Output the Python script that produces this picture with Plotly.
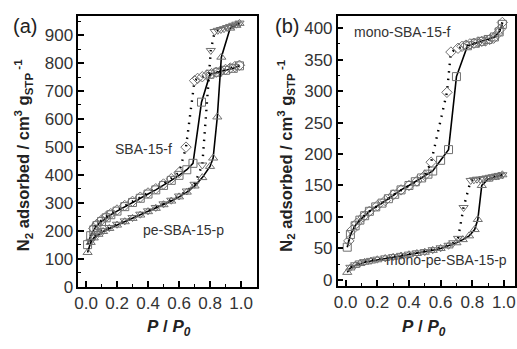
import plotly.graph_objects as go

# ---------------- data ----------------
# panel (a)
a_f_ads_p = [0.01, 0.03, 0.05, 0.07, 0.10, 0.13, 0.16, 0.20, 0.25, 0.30, 0.35, 0.40, 0.45, 0.50, 0.55, 0.60, 0.65, 0.69, 0.745, 0.80, 0.85, 0.90, 0.95, 0.99]
a_f_ads_v = [150, 182, 203, 218, 233, 246, 257, 270, 286, 301, 316, 331, 346, 362, 380, 398, 418, 441, 660, 760, 767, 774, 781, 790]
a_f_des_p = [0.99, 0.96, 0.93, 0.90, 0.87, 0.84, 0.81, 0.78, 0.75, 0.72, 0.70, 0.645, 0.60, 0.55, 0.50, 0.45, 0.40, 0.35, 0.30, 0.25, 0.20, 0.16, 0.13, 0.10, 0.07, 0.05]
a_f_des_v = [792, 787, 782, 777, 772, 767, 762, 757, 751, 745, 737, 499, 408, 386, 367, 350, 335, 320, 305, 290, 274, 261, 250, 238, 223, 208]

a_p_ads_p = [0.01, 0.03, 0.05, 0.08, 0.11, 0.15, 0.20, 0.25, 0.30, 0.35, 0.40, 0.45, 0.50, 0.55, 0.60, 0.65, 0.70, 0.75, 0.80, 0.82, 0.847, 0.873, 0.93, 0.97, 0.99]
a_p_ads_v = [122, 158, 174, 187, 197, 208, 220, 232, 244, 256, 268, 280, 293, 306, 321, 338, 360, 390, 430, 460, 607, 821, 925, 935, 942]
a_p_des_p = [0.99, 0.97, 0.95, 0.93, 0.91, 0.89, 0.87, 0.85, 0.83, 0.805, 0.75, 0.70, 0.65, 0.60, 0.55, 0.50, 0.45, 0.40, 0.35, 0.30, 0.25, 0.20, 0.15, 0.11, 0.08, 0.05, 0.03]
a_p_des_v = [943, 939, 935, 931, 927, 923, 920, 917, 913, 845, 435, 366, 342, 324, 309, 296, 283, 271, 259, 247, 235, 223, 211, 200, 190, 178, 162]

# panel (b)
b_f_ads_p = [0.01, 0.03, 0.06, 0.09, 0.12, 0.15, 0.19, 0.23, 0.27, 0.31, 0.35, 0.40, 0.44, 0.48, 0.52, 0.55, 0.60, 0.65, 0.70, 0.77, 0.82, 0.86, 0.90, 0.94, 0.97, 0.99]
b_f_ads_v = [52, 72, 86, 95, 102, 109, 116, 122, 129, 136, 143, 150, 156, 162, 168, 173, 190, 207, 323, 372, 376, 379, 382, 386, 394, 406]
b_f_des_p = [0.99, 0.975, 0.96, 0.935, 0.91, 0.885, 0.86, 0.835, 0.81, 0.785, 0.76, 0.735, 0.71, 0.665, 0.64, 0.54, 0.50, 0.45, 0.40, 0.35, 0.30, 0.25, 0.20, 0.15, 0.11, 0.07, 0.04, 0.02]
b_f_des_v = [409, 398, 391, 384, 382, 380, 379, 378, 376, 375, 373, 371, 368, 362, 298, 187, 166, 157, 150, 143, 135, 126, 118, 109, 100, 90, 79, 62]

b_p_ads_p = [0.01, 0.03, 0.06, 0.09, 0.12, 0.16, 0.20, 0.25, 0.30, 0.35, 0.40, 0.45, 0.50, 0.55, 0.60, 0.65, 0.70, 0.74, 0.78, 0.815, 0.835, 0.86, 0.90, 0.94, 0.97, 0.99]
b_p_ads_v = [12, 19, 23, 26, 28, 30, 32, 34, 36, 38, 40, 42, 44, 47, 50, 54, 59, 64, 70, 80, 96, 150, 160, 163, 165, 167]
b_p_des_p = [0.99, 0.97, 0.95, 0.93, 0.91, 0.89, 0.87, 0.85, 0.83, 0.81, 0.79, 0.745, 0.71, 0.68, 0.65, 0.60, 0.55, 0.50, 0.45, 0.40, 0.35, 0.30, 0.25, 0.20, 0.16, 0.12, 0.09, 0.06, 0.03]
b_p_des_v = [167, 166, 165, 164, 163, 162, 161, 160, 160, 159, 158, 115, 66, 59, 55, 51, 48, 45, 43, 41, 39, 37, 35, 33, 31, 29, 27, 24, 20]

x_ticks = [0.0, 0.2, 0.4, 0.6, 0.8, 1.0]

# ---------------- styling ----------------
FONT = "Arial, Liberation Sans, sans-serif"
MK = "#707070"
W, H = 517, 349


def px_x(p):
    return p / W


def px_y(p):
    return 1 - p / H


fig = go.Figure()


def add_branch(xs, ys, symbol, dash, xa, ya):
    fig.add_trace(go.Scatter(
        x=xs, y=ys, mode="lines+markers", xaxis=xa, yaxis=ya,
        line=dict(color="black", width=1.6 if dash == "solid" else 2.4, dash=dash),
        marker=dict(symbol=symbol, size=8, color=MK, line=dict(width=1, color=MK)),
        showlegend=False, hoverinfo="skip"))


DOT = "1.5px,6px"
add_branch(a_f_ads_p, a_f_ads_v, "square-open", "solid", "x", "y")
add_branch(a_f_des_p, a_f_des_v, "diamond-open", DOT, "x", "y")
add_branch(a_p_ads_p, a_p_ads_v, "triangle-up-open", "solid", "x", "y")
add_branch(a_p_des_p, a_p_des_v, "triangle-down-open", DOT, "x", "y")
add_branch(b_f_ads_p, b_f_ads_v, "square-open", "solid", "x2", "y2")
add_branch(b_f_des_p, b_f_des_v, "diamond-open", DOT, "x2", "y2")
add_branch(b_p_ads_p, b_p_ads_v, "triangle-up-open", "solid", "x2", "y2")
add_branch(b_p_des_p, b_p_des_v, "triangle-down-open", DOT, "x2", "y2")

tickfont = dict(family=FONT, size=17, color="#333333")
common = dict(showline=True, linecolor="black", linewidth=1.5, mirror=True,
              ticks="inside", ticklen=6, tickwidth=1.5, tickcolor="black",
              showgrid=False, zeroline=False, tickfont=tickfont)

xa_common = dict(common, tickvals=x_ticks, tickformat=".1f",
                 minor=dict(ticks="inside", ticklen=3, tickwidth=1.2, dtick=0.1, tick0=0, tickcolor="black"))

fig.update_layout(
    width=W, height=H, margin=dict(l=0, r=0, t=0, b=0),
    paper_bgcolor="white", plot_bgcolor="white",
    font=dict(family=FONT),
    xaxis=dict(xa_common, domain=[px_x(75), px_x(255)], range=[-0.05, 1.1], anchor="y"),
    yaxis=dict(common, domain=[px_y(295), px_y(16)], range=[0, 970], dtick=100, anchor="x",
               minor=dict(ticks="inside", ticklen=3, tickwidth=1.2, dtick=50, tickcolor="black")),
    xaxis2=dict(xa_common, domain=[px_x(337), px_x(516)], range=[-0.05, 1.07], anchor="y2"),
    yaxis2=dict(common, domain=[px_y(294), px_y(16)], range=[-9, 420], dtick=50, anchor="x2",
                minor=dict(ticks="inside", ticklen=3, tickwidth=1.2, dtick=25, tickcolor="black")),
)

ytitle = "<b>N<sub>2</sub> adsorbed / cm<sup>3</sup> g<sub>STP</sub><sup> -1</sup></b>"
xtitle = "<b><i>P</i> / <i>P</i><sub><i>0</i></sub></b>"
ann = []


def pann(text, xp, yp, size, angle=0, color="#222222"):
    ann.append(dict(text=text, x=px_x(xp), y=px_y(yp), xref="paper", yref="paper",
                    xanchor="center", yanchor="middle", textangle=angle, showarrow=False,
                    font=dict(size=size, color=color, family=FONT)))


pann("(a)", 21, 27, 20)
pann("(b)", 286, 27, 20)
pann(ytitle, 20, 160, 16.5, angle=-90)
pann(ytitle, 285, 160, 16.5, angle=-90)
pann(xtitle, 167, 338, 17)
pann(xtitle, 424, 338, 17)

labels = [("SBA-15-f", 0.37, 491, "x", "y"), ("pe-SBA-15-p", 0.63, 202, "x", "y"),
          ("mono-SBA-15-f", 0.36, 394, "x2", "y2"), ("mono-pe-SBA-15-p", 0.64, 31, "x2", "y2")]
for t, xv, yv, xr, yr in labels:
    ann.append(dict(text=t, x=xv, y=yv, xref=xr, yref=yr, showarrow=False,
                    xanchor="center", yanchor="middle",
                    font=dict(size=14, color="#333333", family=FONT)))
fig.update_layout(annotations=ann)

fig.write_html("out.html")
